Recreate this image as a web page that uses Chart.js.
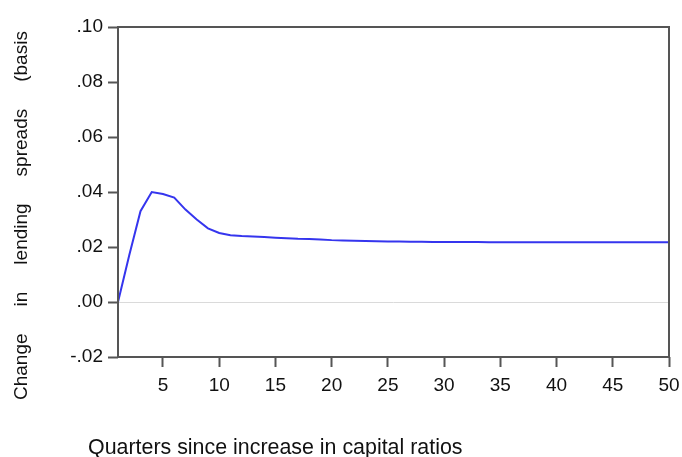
<!DOCTYPE html>
<html>
<head>
<meta charset="utf-8">
<script src="https://cdn.jsdelivr.net/npm/chart.js@4.4.1/dist/chart.umd.min.js"></script>
<style>
  html, body { margin: 0; padding: 0; background: #fff; }
  #wrap { width: 682px; height: 457px; position: relative; }
</style>
</head>
<body>
<div id="wrap"><canvas id="c"></canvas></div>
<script>
// ---- data ----
const quarters = [1,2,3,4,5,6,7,8,9,10,11,12,13,14,15,16,17,18,19,20,21,22,23,24,25,26,27,28,29,30,31,32,33,34,35,36,37,38,39,40,41,42,43,44,45,46,47,48,49,50];
const spreadChange = [0.0000,0.0170,0.0330,0.0400,0.0393,0.0380,0.0336,0.0300,0.0268,0.0251,
                      0.0243,0.0240,0.0238,0.0236,0.0234,0.0232,0.0230,0.0229,0.0227,0.0225,
                      0.0224,0.0223,0.0222,0.0221,0.0220,0.0220,0.0219,0.0219,0.0218,0.0218,
                      0.0218,0.0218,0.0218,0.0217,0.0217,0.0217,0.0217,0.0217,0.0217,0.0217,
                      0.0217,0.0217,0.0217,0.0217,0.0217,0.0217,0.0217,0.0217,0.0217,0.0217];
const xTickValues = [5,10,15,20,25,30,35,40,45,50];
const yTickValues = [0.10,0.08,0.06,0.04,0.02,0.00,-0.02];
const yTickLabels = ['.10','.08','.06','.04','.02','.00','-.02'];
const yTitleWords = ['Change','in','lending','spreads','(basis'];
const xTitle = 'Quarters since increase in capital ratios';

const FONT = "'Liberation Sans', Arial, Helvetica, sans-serif";
const AXIS = '#555555';

const framePlugin = {
  id: 'frame',
  afterDraw(chart) {
    const {ctx, chartArea: a} = chart;
    ctx.save();
    ctx.strokeStyle = AXIS;
    ctx.lineWidth = 2;
    ctx.strokeRect(a.left, a.top, a.right - a.left, a.bottom - a.top);
    // y title (rotated words)
    ctx.fillStyle = '#111';
    ctx.font = '19px ' + FONT;
    ctx.textBaseline = 'alphabetic';
    ctx.textAlign = 'left';
    ctx.translate(27, 400);
    ctx.rotate(-Math.PI / 2);
    let pos = 0;
    for (const w of yTitleWords) {
      ctx.fillText(w, pos, 0);
      pos += ctx.measureText(w).width + 27;
    }
    ctx.restore();
    // x title
    ctx.save();
    ctx.fillStyle = '#111';
    ctx.font = '21.4px ' + FONT;
    ctx.textBaseline = 'alphabetic';
    ctx.textAlign = 'left';
    ctx.fillText(xTitle, 88, 454);
    ctx.restore();
  }
};

new Chart(document.getElementById('c'), {
  type: 'line',
  data: {
    datasets: [{
      data: quarters.map((q, i) => ({x: q, y: spreadChange[i]})),
      borderColor: '#3535ee',
      borderWidth: 2,
      pointRadius: 0,
      tension: 0,
      fill: false,
      clip: false
    }]
  },
  options: {
    responsive: true,
    maintainAspectRatio: false,
    animation: false,
    layout: { padding: { top: 27, right: 13, left: 0, bottom: 0 } },
    plugins: { legend: { display: false }, tooltip: { enabled: false } },
    scales: {
      x: {
        type: 'linear',
        min: 1, max: 50,
        afterFit(s) { s.height = 100; s.paddingLeft = 0; s.paddingRight = 0; },
        afterBuildTicks(s) { s.ticks = xTickValues.map(v => ({value: v})); },
        border: { display: false },
        grid: { drawOnChartArea: false, drawTicks: true, tickLength: 10, tickColor: AXIS, tickWidth: 2, color: AXIS },
        ticks: { color: '#111', font: { family: FONT, size: 19 }, padding: 7, maxRotation: 0, autoSkip: false,
                 callback: v => String(v) }
      },
      y: {
        type: 'linear',
        min: -0.02, max: 0.10,
        afterFit(s) { s.width = 118; s.paddingTop = 0; s.paddingBottom = 0; },
        afterBuildTicks(s) { s.ticks = yTickValues.map(v => ({value: v})); },
        border: { display: false },
        grid: {
          drawOnChartArea: true, drawTicks: true, tickLength: 10, tickColor: AXIS, tickWidth: 2, lineWidth: 1,
          color: c => (c.tick && Math.abs(c.tick.value) < 1e-9) ? '#dadada' : 'rgba(0,0,0,0)'
        },
        ticks: { color: '#111', font: { family: FONT, size: 19 }, padding: 5, autoSkip: false,
                 callback: (v) => { const i = yTickValues.findIndex(t => Math.abs(t - v) < 1e-9); return i >= 0 ? yTickLabels[i] : ''; } }
      }
    }
  },
  plugins: [framePlugin]
});
</script>
</body>
</html>
